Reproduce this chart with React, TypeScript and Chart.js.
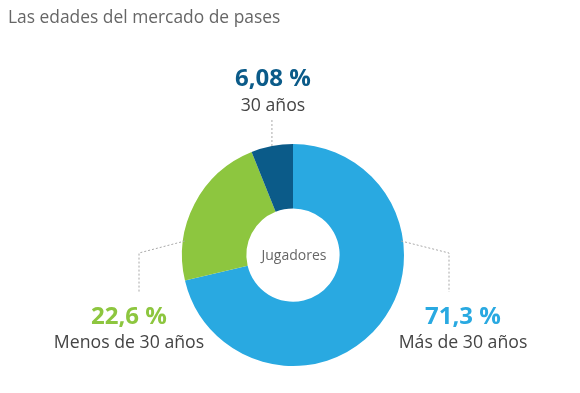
import React, { useEffect, useRef } from "react";
import { Chart, registerables } from "chart.js";

Chart.register(...registerables);

const TITLE = "Las edades del mercado de pases";
const CENTER_LABEL = "Jugadores";
const categories = ["Más de 30 años", "Menos de 30 años", "30 años"];
const values = [71.3, 22.6, 6.08];
const valueLabels = ["71,3 %", "22,6 %", "6,08 %"];
const colors = ["#29a9e1", "#8dc63f", "#0b5b89"];

const FONT = "'Open Sans', 'Noto Sans', sans-serif";

const labelPlugin = {
  id: "labelPlugin",
  afterDraw(chart: any) {
    const ctx = chart.ctx as CanvasRenderingContext2D;
    const meta = chart.getDatasetMeta(0);
    const arc0 = meta.data[0] as any;
    const cx = arc0.x;
    const cy = arc0.y;
    const r = arc0.outerRadius;
    ctx.save();
    // title
    ctx.fillStyle = "#666666";
    ctx.font = `17.4px ${FONT}`;
    ctx.textAlign = "left";
    ctx.textBaseline = "alphabetic";
    ctx.fillText(TITLE, 8, 23);
    // center label
    ctx.font = `14px ${FONT}`;
    ctx.textAlign = "center";
    ctx.textBaseline = "middle";
    ctx.fillStyle = "#666666";
    ctx.fillText(CENTER_LABEL, cx + 1, cy + 1);

    // connectors
    ctx.strokeStyle = "#a8a8a8";
    ctx.lineWidth = 1;
    ctx.setLineDash([2, 2]);
    const dy = 14;
    const dx = Math.sqrt(r * r - dy * dy);
    // right (index 0)
    ctx.beginPath();
    ctx.moveTo(cx + dx - 2, cy - dy);
    ctx.lineTo(cx + 156, cy - 2);
    ctx.lineTo(cx + 156, cy + 37);
    ctx.stroke();
    // left (index 1)
    ctx.beginPath();
    ctx.moveTo(cx - dx + 2, cy - dy);
    ctx.lineTo(cx - 154, cy - 2);
    ctx.lineTo(cx - 154, cy + 37);
    ctx.stroke();
    // top (index 2)
    const a2 = meta.data[2] as any;
    const mid = (a2.startAngle + a2.endAngle) / 2;
    const tx = cx + r * Math.cos(mid);
    const ty = cy + r * Math.sin(mid);
    ctx.beginPath();
    ctx.moveTo(tx, ty);
    ctx.lineTo(tx, cy - 136);
    ctx.stroke();
    ctx.setLineDash([]);

    ctx.textAlign = "center";
    ctx.textBaseline = "alphabetic";
    const drawLabel = (i: number, x: number, yv: number, yc: number) => {
      ctx.font = `bold 24px ${FONT}`;
      ctx.fillStyle = colors[i];
      ctx.fillText(valueLabels[i], x, yv);
      ctx.font = `17.7px ${FONT}`;
      ctx.fillStyle = "#444444";
      ctx.fillText(categories[i], x, yc);
    };
    drawLabel(0, cx + 170, cy + 69, cy + 93);
    drawLabel(1, cx - 164, cy + 69, cy + 93);
    drawLabel(2, tx + 1, cy - 169, cy - 144);
    ctx.restore();
  },
};

export default function App() {
  const ref = useRef<HTMLCanvasElement>(null);
  useEffect(() => {
    document.body.style.margin = "0";
    const chart = new Chart(ref.current!, {
      type: "doughnut",
      data: {
        labels: categories,
        datasets: [
          {
            data: values,
            backgroundColor: colors,
            borderWidth: 0,
          },
        ],
      },
      options: {
        responsive: false,
        animation: false,
        cutout: "42%",
        layout: { padding: { top: 144, bottom: 27, left: 6, right: 0 } },
        plugins: {
          legend: { display: false },
          tooltip: { enabled: false },
          title: { display: false },
        },
      },
      plugins: [labelPlugin],
    });
    return () => chart.destroy();
  }, []);
  return (
    <div style={{ width: 580, height: 393, background: "#ffffff" }}>
      <canvas ref={ref} width={580} height={393} style={{ width: 580, height: 393, display: "block" }} />
    </div>
  );
}
